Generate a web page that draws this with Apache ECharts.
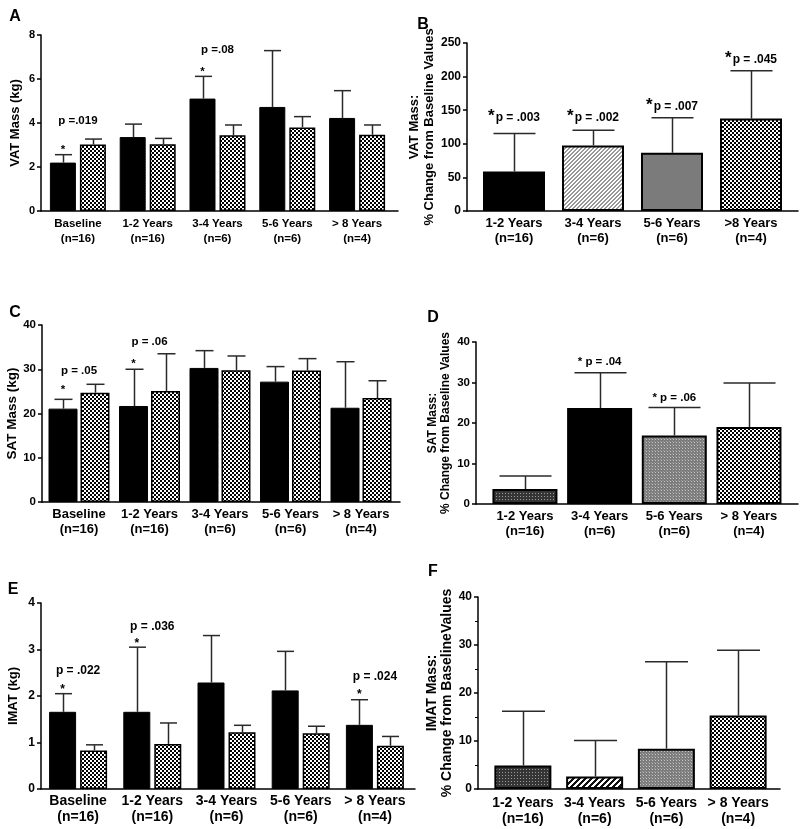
<!DOCTYPE html>
<html><head><meta charset="utf-8">
<script src="https://cdn.jsdelivr.net/npm/echarts@6/dist/echarts.min.js"></script>
<style>html,body{margin:0;padding:0;background:#fff}#c{width:800px;height:829px}</style>
</head><body><div id="c"></div><script>
// ---------- DATA ----------
const catsGroup = ['Baseline\n(n=16)', '1-2 Years\n(n=16)', '3-4 Years\n(n=6)', '5-6 Years\n(n=6)', '> 8 Years\n(n=4)'];
const catsChangeB = ['1-2 Years\n(n=16)', '3-4 Years\n(n=6)', '5-6 Years\n(n=6)', '>8 Years\n(n=4)'];
const catsChange = ['1-2 Years\n(n=16)', '3-4 Years\n(n=6)', '5-6 Years\n(n=6)', '> 8 Years\n(n=4)'];

// A: VAT mass (kg)
const vatBlack = [2.20, 3.36, 5.11, 4.73, 4.23];
const vatBlackErr = [0.36, 0.59, 1.01, 2.56, 1.24];
const vatCheck = [3.02, 3.03, 3.44, 3.80, 3.47];
const vatCheckErr = [0.25, 0.27, 0.47, 0.49, 0.44];
// B: VAT % change
const vatChange = [58.8, 97.6, 86.7, 137.5];
const vatChangeErr = [56.7, 22.4, 52.2, 71.2];
// C: SAT mass (kg)
const satBlack = [21.1, 21.7, 30.3, 27.2, 21.3];
const satBlackErr = [2.1, 8.3, 3.9, 3.4, 10.4];
const satCheck = [24.7, 25.1, 29.8, 29.7, 23.5];
const satCheckErr = [1.9, 8.4, 3.2, 2.7, 3.9];
// D: SAT % change
const satChange = [3.7, 23.7, 16.9, 19.0];
const satChangeErr = [3.2, 8.7, 6.9, 10.9];
// E: IMAT (kg)
const imatBlack = [1.66, 1.66, 2.29, 2.12, 1.38];
const imatBlackErr = [0.39, 1.39, 1.01, 0.84, 0.54];
const imatCheck = [0.83, 0.97, 1.22, 1.20, 0.93];
const imatCheckErr = [0.12, 0.45, 0.15, 0.15, 0.20];
// F: IMAT % change
const imatChange = [4.9, 2.6, 8.4, 15.3];
const imatChangeErr = [11.3, 7.5, 18.1, 13.6];

// Annotations: category index, value, text, bar side (-1 = first bar of pair)
const annA = [[0, 4.09, 'p =.019', 0], [0, 2.77, '*', -1], [2, 7.32, 'p =.08', 0], [2, 6.32, '*', -1]];
const annB = [[0, 138.4, '*|p = .003', 0], [1, 138.4, '*|p = .002', 0], [2, 154.8, '*|p = .007', 0], [3, 224.7, '*|p = .045', 0]];
const annC = [[0, 29.6, 'p = .05', 0], [0, 25.3, '*', -1], [1, 36.2, 'p = .06', 0], [1, 31.2, '*', -1]];
const annD = [[1, 35.1, '* p = .04', 0], [2, 26.2, '* p = .06', 0]];
const annE = [[0, 2.54, 'p = .022', 0], [0, 2.13, '*', -1], [1, 3.48, 'p = .036', 0], [1, 3.12, '*', -1], [4, 2.41, 'p = .024', 0], [4, 2.02, '*', -1]];

// ---------- STYLE ----------
const FONT = '"Liberation Sans", Arial, Helvetica, sans-serif';
function pattern(kind) {
  const c = document.createElement('canvas');
  let s = 4;
  if (kind === 'hatchDark') s = 6;
  if (kind === 'darkDots' || kind === 'midDots') s = 3;
  c.width = s; c.height = s;
  const g = c.getContext('2d');
  if (kind === 'checker') {
    g.fillStyle = '#fff'; g.fillRect(0, 0, 4, 4);
    g.fillStyle = '#000'; g.fillRect(0, 0, 2, 2); g.fillRect(2, 2, 2, 2);
  } else if (kind === 'hatchLight') {
    g.fillStyle = '#fff'; g.fillRect(0, 0, 4, 4);
    g.fillStyle = '#999';
    for (let x = 0; x < 4; x++) for (let y = 0; y < 4; y++) if ((x + y) % 4 < 2) g.fillRect(x, y, 1, 1);
  } else if (kind === 'hatchDark') {
    g.fillStyle = '#fff'; g.fillRect(0, 0, 6, 6);
    g.fillStyle = '#111';
    for (let x = 0; x < 6; x++) for (let y = 0; y < 6; y++) if ((x + y) % 6 < 3) g.fillRect(x, y, 1, 1);
  } else if (kind === 'darkDots') {
    g.fillStyle = '#353535'; g.fillRect(0, 0, 3, 3);
    g.fillStyle = '#9a9a9a'; g.fillRect(1, 1, 1, 1);
  } else if (kind === 'midDots') {
    g.fillStyle = '#7c7c7c'; g.fillRect(0, 0, 3, 3);
    g.fillStyle = '#c4c4c4'; g.fillRect(1, 1, 1, 1);
    g.fillStyle = '#9c9c9c'; g.fillRect(0, 0, 1, 1);
  }
  return { image: c, repeat: 'repeat' };
}
function fill(kind) {
  if (kind === 'black') return '#000';
  if (kind === 'gray') return '#7b7b7b';
  return pattern(kind);
}

// ---------- LAYOUT ----------
const panels = [
  { letter: 'A', lx: 15, ly: 17, frame: [41, 35, 357, 176], data: [43, 349], max: 8, interval: 2, tickFont: 11,
    cats: catsGroup, catFont: 11.5, catLH: 15, catMargin: 5, name: 'VAT Mass (kg)', nameFont: 13, nameLH: 15, nameGap: 18,
    grouped: true, bw: 26, gap: 4, cap: 17, s1: vatBlack, e1: vatBlackErr, s2: vatCheck, e2: vatCheckErr, ann: annA, annFont: 11.5 },
  { letter: 'B', lx: 423, ly: 25, frame: [467, 43, 331, 168], data: [474.5, 316], max: 250, interval: 50, tickFont: 12,
    cats: catsChangeB, catFont: 13, catLH: 15, catMargin: 5, name: 'VAT Mass:\n% Change from Baseline Values', nameFont: 13, nameLH: 15, nameGap: 23,
    grouped: false, bw: 62, cap: 42, s1: vatChange, e1: vatChangeErr, fills: ['black', 'hatchLight', 'gray', 'checker'], ann: annB, annFont: 12 },
  { letter: 'C', lx: 15, ly: 313, frame: [42, 325, 358, 177], data: [43.75, 352.5], max: 40, interval: 10, tickFont: 11.5,
    cats: catsGroup, catFont: 13, catLH: 15, catMargin: 5, name: 'SAT Mass (kg)', nameFont: 13.5, nameLH: 15, nameGap: 19.5,
    grouped: true, bw: 29, gap: 3, cap: 18, s1: satBlack, e1: satBlackErr, s2: satCheck, e2: satCheckErr, ann: annC, annFont: 11.5 },
  { letter: 'D', lx: 433, ly: 318, frame: [476, 342, 322, 162], data: [487.6, 298.7], max: 40, interval: 10, tickFont: 11.5,
    cats: catsChange, catFont: 13, catLH: 15, catMargin: 5, name: 'SAT Mass:\n% Change from Baseline Values', nameFont: 12, nameLH: 13, nameGap: 23.5,
    grouped: false, bw: 65, cap: 52, s1: satChange, e1: satChangeErr, fills: ['darkDots', 'black', 'midDots', 'checker'], ann: annD, annFont: 11.5 },
  { letter: 'E', lx: 13, ly: 590, frame: [41, 603, 374, 186], data: [41, 371], max: 4, interval: 1, tickFont: 12,
    cats: catsGroup, catFont: 14, catLH: 16, catMargin: 4, name: 'IMAT (kg)', nameFont: 13, nameLH: 15, nameGap: 20,
    grouped: true, bw: 27, gap: 4, cap: 17, s1: imatBlack, e1: imatBlackErr, s2: imatCheck, e2: imatCheckErr, ann: annE, annFont: 12 },
  { letter: 'F', lx: 433, ly: 572, frame: [478, 597, 302, 192], data: [487, 287], max: 40, interval: 10, tickFont: 12, minor: true,
    cats: catsChange, catFont: 14, catLH: 16, catMargin: 6, name: 'IMAT Mass:\n% Change from BaselineValues', nameFont: 14, nameLH: 15, nameGap: 23.5,
    grouped: false, bw: 57, cap: 43, s1: imatChange, e1: imatChangeErr, fills: ['darkDots', 'hatchDark', 'midDots', 'checker'], ann: [], annFont: 12 }
];

const grid = [], xAxis = [], yAxis = [], series = [], graphic = [];

function errSeries(ai, vals, errs, dx, cap) {
  return {
    type: 'custom', xAxisIndex: ai, yAxisIndex: ai, z: 5, silent: true,
    data: vals.map((v, i) => [i, v, v + errs[i]]),
    renderItem(params, api) {
      const b = api.coord([api.value(0), api.value(1)]);
      const t = api.coord([api.value(0), api.value(2)]);
      const x = Math.round(b[0] + dx) + 0.5;
      const st = { stroke: '#2a2a2a', lineWidth: 1.5 };
      return { type: 'group', children: [
        { type: 'line', shape: { x1: x, y1: b[1], x2: x, y2: t[1] }, style: st },
        { type: 'line', shape: { x1: x - cap / 2, y1: t[1], x2: x + cap / 2, y2: t[1] }, style: st }
      ] };
    }
  };
}
function annSeries(ai, anns, dxUnit, font) {
  return {
    type: 'custom', xAxisIndex: ai, yAxisIndex: ai, z: 6, silent: true,
    data: anns.map(a => [a[0], a[1]]),
    renderItem(params, api) {
      const a = anns[params.dataIndex];
      const p = api.coord([api.value(0), api.value(1)]);
      let text = a[2], rich;
      if (text.indexOf('|') >= 0) {
        const parts = text.split('|');
        text = '{s|' + parts[0] + '}{t|' + parts[1] + '}';
        rich = { s: { fontSize: font + 5, fontWeight: 'bold', fontFamily: FONT, fill: '#000', verticalAlign: 'top', padding: [0, 1, 4, 0] },
                 t: { fontSize: font, fontWeight: 'bold', fontFamily: FONT, fill: '#000' } };
      }
      return { type: 'text', x: p[0] + a[3] * dxUnit, y: p[1],
        style: { text: text, rich: rich, fontSize: font, fontWeight: 'bold', fontFamily: FONT, fill: '#000', align: 'center', verticalAlign: 'middle' } };
    }
  };
}

panels.forEach((P, k) => {
  const fi = 2 * k, di = 2 * k + 1;
  const [fl, ft, fw, fh] = P.frame;
  grid.push({ left: fl, top: ft, width: fw, height: fh });
  grid.push({ left: P.data[0], top: ft, width: P.data[1], height: fh });
  const axisLine = { show: true, lineStyle: { color: '#000', width: 1.5 } };
  xAxis.push({ gridIndex: fi, type: 'value', min: 0, max: 1, axisLine: axisLine, axisTick: { show: false },
    axisLabel: { show: false }, splitLine: { show: false } });
  yAxis.push({ gridIndex: fi, type: 'value', min: 0, max: P.max, interval: P.interval,
    axisLine: axisLine, axisTick: { show: true, length: 4, lineStyle: { color: '#000', width: 1.5 } },
    minorTick: { show: !!P.minor, splitNumber: 2, length: 3, lineStyle: { color: '#000', width: 1 } },
    axisLabel: { color: '#000', fontWeight: 'bold', fontSize: P.tickFont, fontFamily: FONT, margin: 6 },
    splitLine: { show: false },
    name: P.name, nameLocation: 'middle', nameRotate: 90, nameGap: P.nameGap,
    nameTextStyle: { color: '#000', fontWeight: 'bold', fontSize: P.nameFont, lineHeight: P.nameLH, fontFamily: FONT, align: 'center' } });
  xAxis.push({ gridIndex: di, type: 'category', data: P.cats, axisLine: { show: false }, axisTick: { show: false },
    axisLabel: { interval: 0, color: '#000', fontWeight: 'bold', fontSize: P.catFont, lineHeight: P.catLH, fontFamily: FONT, margin: P.catMargin } });
  yAxis.push({ gridIndex: di, type: 'value', min: 0, max: P.max, show: false });

  if (P.grouped) {
    const off = (P.bw + P.gap) / 2;
    const gapPct = (P.gap / P.bw * 100).toFixed(1) + '%';
    series.push({ type: 'bar', xAxisIndex: di, yAxisIndex: di, data: P.s1, barWidth: P.bw, barGap: gapPct,
      itemStyle: { color: '#000', borderColor: '#000', borderWidth: 1 }, silent: true });
    series.push({ type: 'bar', xAxisIndex: di, yAxisIndex: di, data: P.s2, barWidth: P.bw, barGap: gapPct,
      itemStyle: { color: fill('checker'), borderColor: '#000', borderWidth: 1.5 }, silent: true });
    series.push(errSeries(di, P.s1, P.e1, -off, P.cap));
    series.push(errSeries(di, P.s2, P.e2, off, P.cap));
    series.push(annSeries(di, P.ann, off, P.annFont));
  } else {
    series.push({ type: 'bar', xAxisIndex: di, yAxisIndex: di, barWidth: P.bw, silent: true,
      data: P.s1.map((v, i) => ({ value: v, itemStyle: { color: fill(P.fills[i]), borderColor: '#000', borderWidth: 2 } })) });
    series.push(errSeries(di, P.s1, P.e1, 0, P.cap));
    series.push(annSeries(di, P.ann, 0, P.annFont));
  }
  graphic.push({ type: 'text', x: P.lx, y: P.ly, style: { text: P.letter, fontSize: 16, fontWeight: 'bold', fontFamily: FONT, fill: '#000', align: 'center', verticalAlign: 'middle' } });
});

const chart = echarts.init(document.getElementById('c'), null, { renderer: 'canvas' });
chart.setOption({ animation: false, backgroundColor: '#fff', grid, xAxis, yAxis, series, graphic });
</script></body></html>
